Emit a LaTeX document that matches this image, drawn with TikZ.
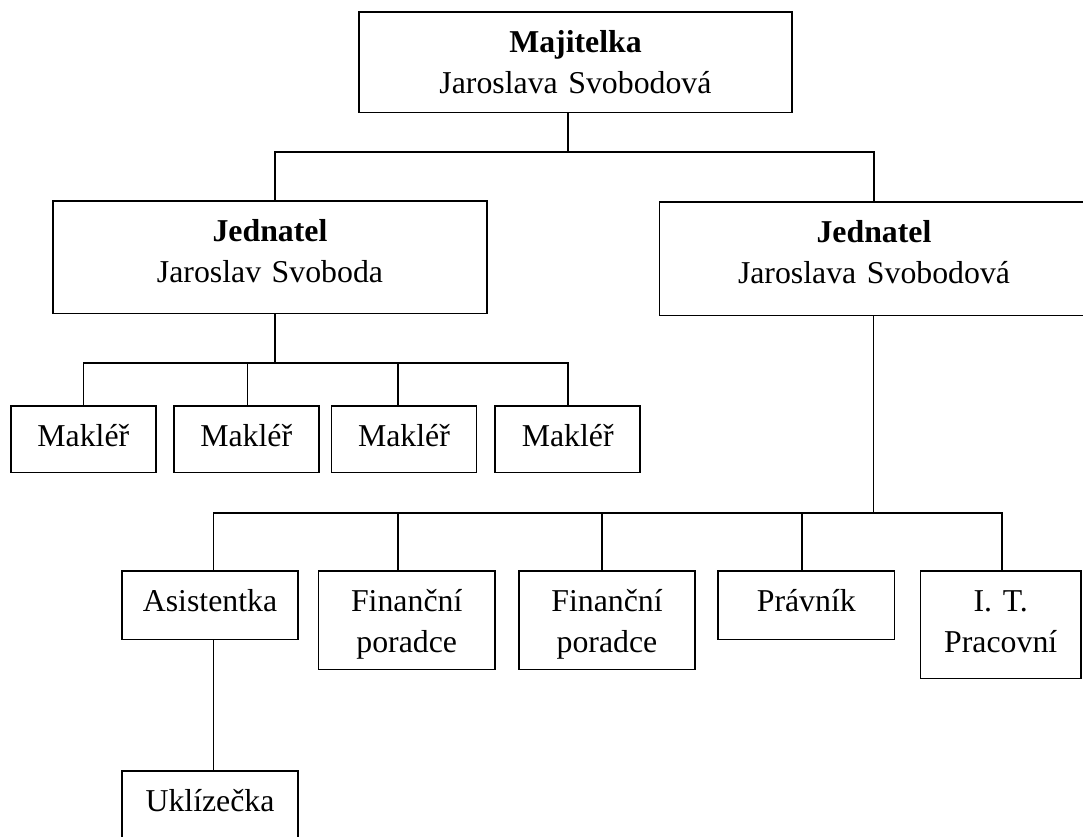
\documentclass[tikz,border=0pt]{standalone}
\usepackage{fontspec}
\setmainfont{Liberation Serif}

\begin{document}
\begin{tikzpicture}[x=1pt, y=-1pt,
    box/.style={draw, line width=1.6pt, anchor=north, align=center, inner sep=0pt,
        text height=40.5pt, font=\fontsize{31.8}{41.5}\selectfont},
    link/.style={line width=1.6pt, line cap=rect}]
    \useasboundingbox (0,0) rectangle (1083,836);
    % vedeni
    \node[box, text width=433pt, text depth=60pt] (maj) at (575.5,11) {\textbf{Majitelka}\\Jaroslava Svobodová};
    \node[box, text width=434pt, text depth=72pt] (jedL) at (270,200) {\textbf{Jednatel}\\Jaroslav Svoboda};
    \node[box, text width=429pt, text depth=73pt] (jedR) at (874,201) {\textbf{Jednatel}\\Jaroslava Svobodová};
    % makleri
    \foreach \i/\cx in {1/83.3, 2/246.2, 3/404, 4/567.7}
        \node[box, text width=145pt, text depth=26pt] (mak\i) at (\cx,405) {Makléř};
    % zamestnanci
    \node[box, text width=176pt, text depth=28pt] (asist) at (210,570) {Asistentka};
    \node[box, text width=176.5pt, text depth=58pt] (fin1) at (406.7,570) {Finanční\\poradce};
    \node[box, text width=176pt, text depth=58pt] (fin2) at (607,570) {Finanční\\poradce};
    \node[box, text width=176.6pt, text depth=28pt] (prav) at (806.3,570) {Právník};
    \node[box, text width=160.5pt, text depth=67pt] (it) at (1000.7,570) {I. T.\\Pracovní};
    \node[box, text width=176pt, text depth=28pt] (ukl) at (210,770) {Uklízečka};

    \coordinate (bus1) at (568,152);
    \coordinate (bus2) at (275,363);
    \coordinate (bus3) at (873.5,513);

    \draw[link] (maj.south -| bus1) -- (bus1);
    \draw[link] ([xshift=5pt]jedL.north) |- (bus1) -| (jedR.north);
    \draw[link] (jedL.south -| bus2) -- (bus2);
    \foreach \i/\dx in {1/0, 2/1.4, 3/-6.3, 4/0.3}
        \draw[link] ([xshift=\dx pt]mak\i.north) |- (bus2);
    \draw[link] (jedR.south -| bus3) -- (bus3);
    \foreach \n/\dx in {asist/3.5, fin1/-9, fin2/-5, prav/-4.3, it/1.3}
        \draw[link] ([xshift=\dx pt]\n.north) |- (bus3);
    \draw[link] ([xshift=3.5pt]asist.south) -- ([xshift=3.5pt]ukl.north);
\end{tikzpicture}
\end{document}
